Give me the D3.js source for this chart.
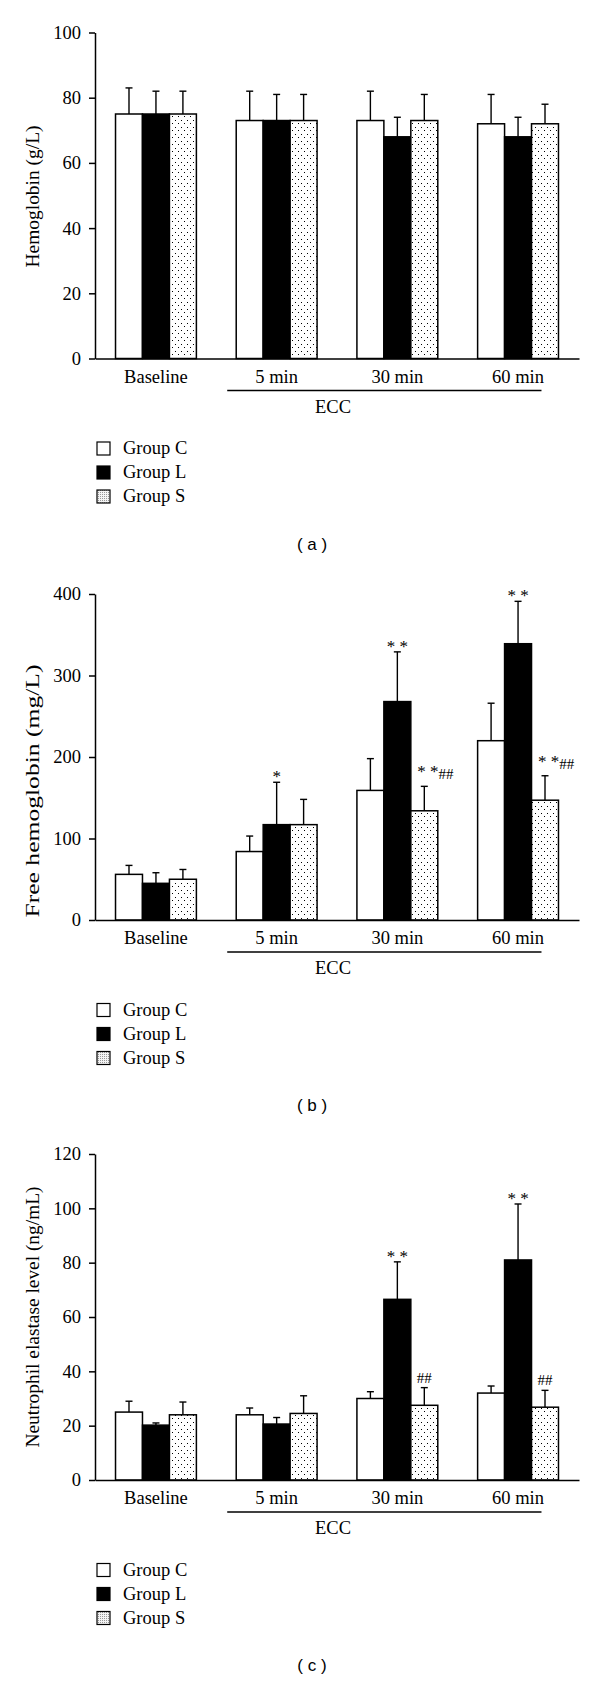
<!DOCTYPE html>
<html><head><meta charset="utf-8">
<script src="https://cdn.jsdelivr.net/npm/d3@7"></script>
<style>body{margin:0;background:#fff} svg{display:block}</style>
</head><body><svg id="chart" width="600" height="1681"></svg>
<script>
// ---------- data ----------
const categories = ["Baseline", "5 min", "30 min", "60 min"];
const groups = ["Group C", "Group L", "Group S"];

// (a) Hemoglobin (g/L)
const hbC = [75, 73, 73, 72];
const hbL = [75, 73, 68, 68];
const hbS = [75, 73, 73, 72];
const hbErrC = [8, 9, 9, 9];
const hbErrL = [7, 8, 6, 6];
const hbErrS = [7, 8, 8, 6];
const hbTicks = [0, 20, 40, 60, 80, 100];

// (b) Free hemoglobin (mg/L)
const fhC = [56, 84, 159, 220];
const fhL = [45, 117, 268, 339];
const fhS = [50, 117, 134, 147];
const fhErrC = [11, 19, 39, 46];
const fhErrL = [13, 52, 61, 52];
const fhErrS = [12, 31, 30, 30];
const fhTicks = [0, 100, 200, 300, 400];
const fhMarks = [
  {cat: "5 min", grp: "Group L", star: "*", hash: ""},
  {cat: "30 min", grp: "Group L", star: "* *", hash: ""},
  {cat: "30 min", grp: "Group S", star: "* *", hash: "##"},
  {cat: "60 min", grp: "Group L", star: "* *", hash: ""},
  {cat: "60 min", grp: "Group S", star: "* *", hash: "##"}
];

// (c) Neutrophil elastase level (ng/mL)
const neC = [25, 24, 30, 32];
const neL = [20.2, 20.6, 66.5, 81];
const neS = [24, 24.5, 27.5, 26.8];
const neErrC = [4, 2.5, 2.5, 2.6];
const neErrL = [0.8, 2.4, 13.8, 20.6];
const neErrS = [4.7, 6.5, 6.5, 6.2];
const neTicks = [0, 20, 40, 60, 80, 100, 120];
const neMarks = [
  {cat: "30 min", grp: "Group L", star: "* *", hash: ""},
  {cat: "30 min", grp: "Group S", star: "", hash: "##"},
  {cat: "60 min", grp: "Group L", star: "* *", hash: ""},
  {cat: "60 min", grp: "Group S", star: "", hash: "##"}
];

// ---------- drawing ----------
const SERIF = "'Liberation Serif','Times New Roman',serif";
const SANS = "'Liberation Sans',Arial,sans-serif";
const svg = d3.select("#chart");
svg.append("rect").attr("width", 600).attr("height", 1681).attr("fill", "#fff");

const defs = svg.append("defs");
const pat = defs.append("pattern").attr("id", "dots").attr("patternUnits", "userSpaceOnUse")
  .attr("width", 6).attr("height", 7);
pat.append("rect").attr("width", 6).attr("height", 7).attr("fill", "#fff");
pat.append("rect").attr("x", 1).attr("y", 1).attr("width", 1).attr("height", 1).attr("fill", "#000");
pat.append("rect").attr("x", 4).attr("y", 4).attr("width", 1).attr("height", 1).attr("fill", "#000");
const pat2 = defs.append("pattern").attr("id", "dotsFine").attr("patternUnits", "userSpaceOnUse")
  .attr("width", 2).attr("height", 2);
pat2.append("rect").attr("width", 2).attr("height", 2).attr("fill", "#f4f4f4");
pat2.append("rect").attr("width", 1).attr("height", 1).attr("fill", "#999");

const fills = {"Group C": "#fff", "Group L": "#000", "Group S": "url(#dots)"};
const legendFills = {"Group C": "#fff", "Group L": "#000", "Group S": "url(#dotsFine)"};

const panels = [
  {top: 32.5, max: 100, ticks: hbTicks, label: "Hemoglobin (g/L)", labelLen: 142, labelOff: 164,
   caption: "( a )", series: [hbC, hbL, hbS], errs: [hbErrC, hbErrL, hbErrS], marks: []},
  {top: 594, max: 400, ticks: fhTicks, label: "Free hemoglobin (mg/L)", labelLen: 253, labelOff: 197,
   caption: "( b )", series: [fhC, fhL, fhS], errs: [fhErrC, fhErrL, fhErrS], marks: fhMarks},
  {top: 1154, max: 120, ticks: neTicks, label: "Neutrophil elastase level (ng/mL)", labelLen: 261, labelOff: 163,
   caption: "( c )", series: [neC, neL, neS], errs: [neErrC, neErrL, neErrS], marks: neMarks}
];

const H = 326;
const x0 = d3.scaleBand().domain(categories).range([95, 579]).paddingInner(0.33).paddingOuter(0.17);
const x1 = d3.scaleBand().domain(groups).range([0, x0.bandwidth()]).padding(0);

panels.forEach(p => {
  const g = svg.append("g");
  const y = d3.scaleLinear().domain([0, p.max]).range([p.top + H, p.top]);
  const base = y(0);

  const rows = [];
  categories.forEach((c, i) => groups.forEach((gr, j) => rows.push({
    cat: c, grp: gr, v: p.series[j][i], e: p.errs[j][i]
  })));

  // error bars
  const eb = g.append("g").attr("stroke", "#000").attr("stroke-width", 1.4).attr("fill", "none");
  rows.forEach(r => {
    const cx = x0(r.cat) + x1(r.grp) + x1.bandwidth() / 2;
    eb.append("line").attr("x1", cx).attr("x2", cx).attr("y1", y(r.v)).attr("y2", y(r.v + r.e));
    eb.append("line").attr("x1", cx - 3.5).attr("x2", cx + 3.5).attr("y1", y(r.v + r.e)).attr("y2", y(r.v + r.e));
  });

  // bars
  g.append("g").selectAll("rect").data(rows).join("rect")
    .attr("x", d => x0(d.cat) + x1(d.grp))
    .attr("y", d => y(d.v))
    .attr("width", x1.bandwidth())
    .attr("height", d => base - y(d.v))
    .attr("fill", d => fills[d.grp])
    .attr("stroke", "#000").attr("stroke-width", 1.5);

  // y axis
  const ya = g.append("g").attr("transform", "translate(95,0)")
    .call(d3.axisLeft(y).tickValues(p.ticks).tickSize(6).tickSizeOuter(0).tickPadding(8));
  ya.select(".domain").attr("stroke-width", 1.5);
  ya.selectAll(".tick line").attr("stroke-width", 1.5);
  ya.selectAll("text").attr("font-family", SERIF).attr("font-size", 18.5).attr("fill", "#000");

  // x axis
  const xa = g.append("g").attr("transform", `translate(0,${base})`)
    .call(d3.axisBottom(x0).tickSize(0).tickSizeOuter(0).tickPadding(11));
  xa.select(".domain").attr("stroke-width", 1.5);
  xa.selectAll("text").attr("font-family", SERIF).attr("font-size", 18.5).attr("fill", "#000");

  // ECC bracket
  const eccX1 = x0("5 min") - 9, eccX2 = x0("60 min") + x0.bandwidth() - 17;
  g.append("line").attr("x1", eccX1).attr("x2", eccX2).attr("y1", base + 32).attr("y2", base + 32)
    .attr("stroke", "#000").attr("stroke-width", 1.3);
  g.append("text").attr("x", (x0("5 min") + x0("30 min") + x0.bandwidth()) / 2 - 4).attr("y", base + 54)
    .attr("text-anchor", "middle").attr("font-family", SERIF).attr("font-size", 18.5).attr("fill", "#000")
    .text("ECC");

  // y label
  g.append("text")
    .attr("transform", `translate(32,${p.top + p.labelOff}) rotate(-90)`)
    .attr("text-anchor", "middle").attr("dominant-baseline", "central")
    .attr("font-family", SERIF).attr("font-size", 19).attr("fill", "#000")
    .attr("textLength", p.labelLen).attr("lengthAdjust", "spacingAndGlyphs")
    .text(p.label);

  // significance marks
  p.marks.forEach(m => {
    const i = categories.indexOf(m.cat), j = groups.indexOf(m.grp);
    const cx = x0(m.cat) + x1(m.grp) + x1.bandwidth() / 2;
    const yt = y(p.series[j][i] + p.errs[j][i]);
    if (m.star && m.hash) {
      const t = g.append("text").attr("x", cx - 7).attr("y", yt - 18 + 9)
        .attr("font-family", SERIF).attr("fill", "#000");
      t.append("tspan").attr("font-size", 17).text(m.star);
      t.append("tspan").attr("font-size", 15).attr("dy", 2).text(m.hash);
    } else if (m.star) {
      g.append("text").attr("x", cx).attr("y", yt - 9 + 9).attr("text-anchor", "middle")
        .attr("font-family", SERIF).attr("font-size", 17).attr("fill", "#000").text(m.star);
    } else {
      g.append("text").attr("x", cx).attr("y", yt - 10 + 5).attr("text-anchor", "middle")
        .attr("font-family", SERIF).attr("font-size", 15).attr("fill", "#000").text(m.hash);
    }
  });

  // legend
  groups.forEach((gr, k) => {
    const cy = base + 90 + k * 24;
    g.append("rect").attr("x", 97).attr("y", cy - 6.5).attr("width", 13).attr("height", 13)
      .attr("fill", legendFills[gr]).attr("stroke", "#000").attr("stroke-width", 1.2);
    g.append("text").attr("x", 123).attr("y", cy + 5.5)
      .attr("font-family", SERIF).attr("font-size", 18.5).attr("fill", "#000").text(gr);
  });

  // caption
  g.append("text").attr("x", 312).attr("y", base + 191).attr("text-anchor", "middle")
    .attr("font-family", SANS).attr("font-size", 17).attr("fill", "#000").text(p.caption);
});
</script>
</body></html>
